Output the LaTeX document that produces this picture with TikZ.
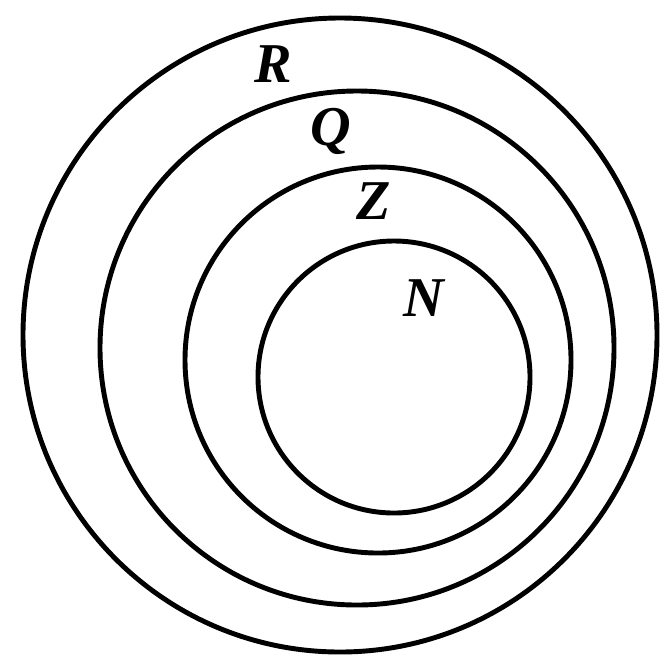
\documentclass[tikz,border=0pt]{standalone}
\usepackage{fontspec}
\setmainfont{Liberation Serif}
\usepackage{tikz}
\usetikzlibrary{positioning}
\tikzset{
  setring/.style={draw=black,line width=2.8pt},
  setname/.style={font=\fontsize{32}{33}\selectfont\bfseries\itshape,inner sep=0pt}
}

\begin{document}
\begin{tikzpicture}[x=0.02cm,y=-0.02cm]
  \useasboundingbox (0,0) rectangle (661,660);
  \draw[setring] (340,335) circle[radius=317];
  \draw[setring] (357,348) circle[radius=257];
  \draw[setring] (378,360) circle[radius=193];
  \draw[setring] (394,377) circle[radius=136];
  \node[setname] (R) at (273,64) {R};
  \node[setname] (Q) at (331,131) {Q};
  \node[setname] (Z) at (374,201) {Z};
  \node[setname] (N) at (424,298) {N};
\end{tikzpicture}
\end{document}
